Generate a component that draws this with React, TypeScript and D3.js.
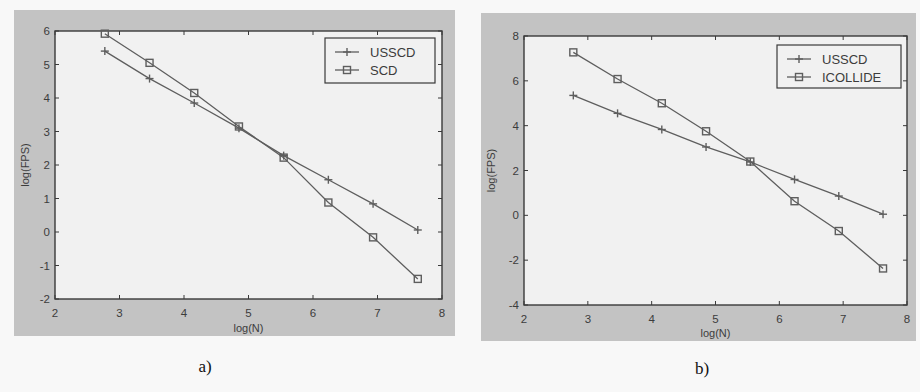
import React from "react";
import * as d3 from "d3";

const logN = [Math.log(16), Math.log(32), Math.log(64), Math.log(128), Math.log(256), Math.log(512), Math.log(1024), Math.log(2048)];
const usscdA = [5.4, 4.58, 3.85, 3.1, 2.28, 1.56, 0.84, 0.06];
const scdA = [5.92, 5.05, 4.15, 3.15, 2.22, 0.88, -0.16, -1.4];
const usscdB = [5.35, 4.55, 3.83, 3.05, 2.38, 1.6, 0.86, 0.05];
const icollideB = [7.27, 6.08, 5.0, 3.75, 2.4, 0.63, -0.7, -2.37];
const xTicks = [2, 3, 4, 5, 6, 7, 8];
const yTicksA = [-2, -1, 0, 1, 2, 3, 4, 5, 6];
const yTicksB = [-4, -2, 0, 2, 4, 6, 8];
const namesA = ["USSCD", "SCD"];
const namesB = ["USSCD", "ICOLLIDE"];

type PanelCfg = {
  panel: [number, number, number, number];
  plot: [number, number, number, number];
  yDomain: [number, number];
  yTicks: number[];
  s1: number[];
  s2: number[];
  names: string[];
  legend: [number, number, number, number];
  caption: string;
  capX: number;
  capY: number;
  xLabelY: number;
  yLabelX: number;
};

const panels: PanelCfg[] = [
  { panel: [14, 10, 455, 336], plot: [55, 31, 442, 299], yDomain: [-2, 6], yTicks: yTicksA, s1: usscdA, s2: scdA, names: namesA, legend: [325, 38, 435, 83], caption: "a)", capX: 205, capY: 372, xLabelY: 332, yLabelX: 29 },
  { panel: [481, 13, 916, 341], plot: [524, 36, 907, 305], yDomain: [-4, 8], yTicks: yTicksB, s1: usscdB, s2: icollideB, names: namesB, legend: [777, 45, 901, 88], caption: "b)", capX: 702, capY: 374, xLabelY: 337, yLabelX: 495 },
];

const font = "'Liberation Sans', Arial, sans-serif";
const lineCol = "#5e5e5e";
const axisCol = "#3a3a3a";
const textCol = "#3c3c3c";

function Plus({ x, y, s = 4 }: { x: number; y: number; s?: number }) {
  return (
    <g stroke={lineCol} strokeWidth={1.4}>
      <line x1={x - s} y1={y} x2={x + s} y2={y} />
      <line x1={x} y1={y - s} x2={x} y2={y + s} />
    </g>
  );
}

function Sq({ x, y, s = 3.5 }: { x: number; y: number; s?: number }) {
  return <rect x={x - s} y={y - s} width={2 * s} height={2 * s} fill="none" stroke={lineCol} strokeWidth={1.4} />;
}

function Panel({ c }: { c: PanelCfg }) {
  const [px0, py0, px1, py1] = c.panel;
  const [x0, y0, x1, y1] = c.plot;
  const xs = d3.scaleLinear().domain([2, 8]).range([x0, x1]);
  const ys = d3.scaleLinear().domain(c.yDomain).range([y1, y0]);
  const line = d3.line<number>().x((_, i) => xs(logN[i])).y((d) => ys(d));
  const [lx0, ly0, lx1, ly1] = c.legend;
  const tl = 4;
  return (
    <g>
      <rect x={px0} y={py0} width={px1 - px0} height={py1 - py0} fill="#c3c3c3" />
      <rect x={x0} y={y0} width={x1 - x0} height={y1 - y0} fill="#f1f1f1" stroke={axisCol} strokeWidth={1.4} />
      {xTicks.map((t) => (
        <g key={"x" + t}>
          <line x1={xs(t)} x2={xs(t)} y1={y1} y2={y1 - tl} stroke={axisCol} />
          <line x1={xs(t)} x2={xs(t)} y1={y0} y2={y0 + tl} stroke={axisCol} />
          <text x={xs(t)} y={y1 + 18} textAnchor="middle" fontSize={11.5} fontFamily={font} fill={textCol}>{t}</text>
        </g>
      ))}
      {c.yTicks.map((t) => (
        <g key={"y" + t}>
          <line x1={x0} x2={x0 + tl} y1={ys(t)} y2={ys(t)} stroke={axisCol} />
          <line x1={x1} x2={x1 - tl} y1={ys(t)} y2={ys(t)} stroke={axisCol} />
          <text x={x0 - 5} y={ys(t) + 4} textAnchor="end" fontSize={11.5} fontFamily={font} fill={textCol}>{t}</text>
        </g>
      ))}
      <text x={(x0 + x1) / 2} y={c.xLabelY} textAnchor="middle" fontSize={11} fontFamily={font} fill={textCol}>log(N)</text>
      <text transform={`translate(${c.yLabelX},${(y0 + y1) / 2}) rotate(-90)`} textAnchor="middle" fontSize={11} fontFamily={font} fill={textCol}>log(FPS)</text>
      <path d={line(c.s1) || ""} fill="none" stroke={lineCol} strokeWidth={1.3} />
      <path d={line(c.s2) || ""} fill="none" stroke={lineCol} strokeWidth={1.3} />
      {c.s1.map((v, i) => <Plus key={"p" + i} x={xs(logN[i])} y={ys(v)} />)}
      {c.s2.map((v, i) => <Sq key={"s" + i} x={xs(logN[i])} y={ys(v)} />)}
      <rect x={lx0} y={ly0} width={lx1 - lx0} height={ly1 - ly0} fill="#f1f1f1" stroke={axisCol} strokeWidth={1.2} />
      {c.names.map((n, i) => {
        const yy = ly0 + 14 + i * 18;
        return (
          <g key={n}>
            <line x1={lx0 + 10} x2={lx0 + 34} y1={yy} y2={yy} stroke={lineCol} strokeWidth={1.3} />
            {i === 0 ? <Plus x={lx0 + 22} y={yy} /> : <Sq x={lx0 + 22} y={yy} />}
            <text x={lx0 + 45} y={yy + 4.5} fontSize={13} fontFamily={font} fill={textCol}>{n}</text>
          </g>
        );
      })}
      <text x={c.capX} y={c.capY} textAnchor="middle" fontSize={17} fontFamily="'Liberation Serif', 'Times New Roman', serif" fill="#111">{c.caption}</text>
    </g>
  );
}

export default function App() {
  return (
    <svg width={920} height={392} style={{ position: "absolute", left: 0, top: 0, background: "#f8f8f8" }}>
      <rect x={0} y={0} width={920} height={392} fill="#f8f8f8" />
      {panels.map((c) => <Panel key={c.caption} c={c} />)}
    </svg>
  );
}
